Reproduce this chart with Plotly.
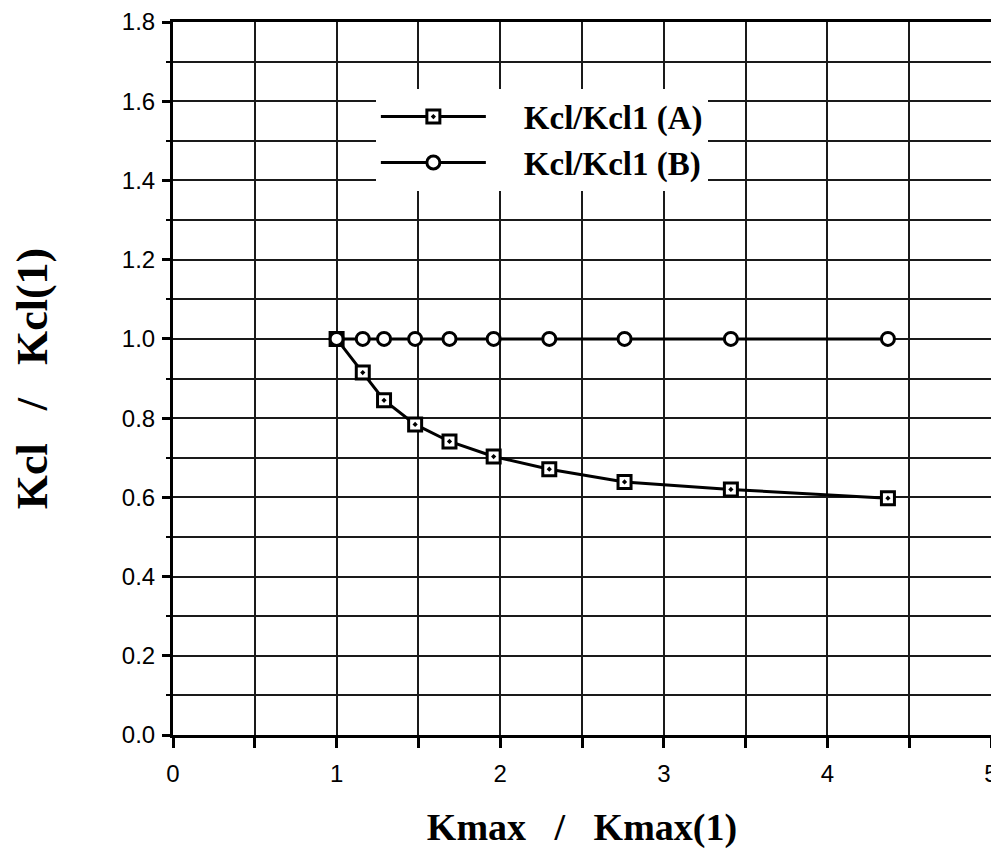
import plotly.graph_objects as go

# Data
kmax_ratio = [1.0, 1.16, 1.29, 1.48, 1.69, 1.96, 2.30, 2.76, 3.41, 4.37]
kcl_A = [1.0, 0.915, 0.845, 0.784, 0.741, 0.703, 0.671, 0.639, 0.620, 0.598]
kcl_B = [1.0, 1.0, 1.0, 1.0, 1.0, 1.0, 1.0, 1.0, 1.0, 1.0]

x_tickvals = [0, 0.5, 1, 1.5, 2, 2.5, 3, 3.5, 4, 4.5, 5]
x_ticktext = ["0", "", "1", "", "2", "", "3", "", "4", "", "5"]

series_names = ["Kcl/Kcl1 (A)", "Kcl/Kcl1 (B)"]
sp = "\u00a0\u00a0\u00a0"
lsp = "\u00a0\u00a0\u00a0\u00a0"
x_title = "Kmax" + sp + "/" + sp + "Kmax(1)"
y_title = "Kcl" + sp + "/" + sp + "Kcl(1)"

fig = go.Figure()
fig.add_trace(go.Scatter(
    x=kmax_ratio, y=kcl_A, name=lsp + series_names[0], mode="lines+markers",
    line=dict(color="black", width=3),
    marker=dict(symbol="square-dot", size=13, color="white",
                line=dict(color="black", width=3)),
))
fig.add_trace(go.Scatter(
    x=kmax_ratio, y=kcl_B, name=lsp + series_names[1], mode="lines+markers",
    line=dict(color="black", width=3),
    marker=dict(symbol="circle", size=13, color="white",
                line=dict(color="black", width=3)),
))

grid_color = "#1a1a1a"
serif = "Liberation Serif, Times New Roman"
fig.update_layout(
    width=999, height=853,
    paper_bgcolor="white", plot_bgcolor="white",
    margin=dict(l=165, r=16, t=14, b=126),
    font=dict(family="Liberation Sans, Arial", color="black", size=24),
    showlegend=True,
    legend=dict(
        x=0.248, y=0.9065, xanchor="left", yanchor="top",
        bgcolor="white", borderwidth=0,
        font=dict(family=serif, size=33, weight="bold"),
        itemwidth=105, tracegroupgap=0,
    ),
    xaxis=dict(
        range=[0, 5], tickmode="array", tickvals=x_tickvals, ticktext=x_ticktext,
        showgrid=True, gridcolor=grid_color, gridwidth=2,
        showline=True, linecolor="black", linewidth=3, mirror=True,
        ticks="outside", ticklen=10, tickwidth=3, tickcolor="black",
        ticklabelstandoff=5, ticklabeloverflow="allow",
        zeroline=False, automargin=False,
        tickfont=dict(size=24),
        title=dict(text=x_title, standoff=28,
                   font=dict(family=serif, size=38, weight="bold")),
    ),
    yaxis=dict(
        range=[0, 1.8], dtick=0.2, tick0=0, tickformat=".1f",
        showgrid=True, gridcolor=grid_color, gridwidth=2,
        showline=True, linecolor="black", linewidth=3, mirror=True,
        ticks="outside", ticklen=8, tickwidth=3, tickcolor="black",
        ticklabelstandoff=2, ticklabeloverflow="allow",
        zeroline=False, automargin=False,
        tickfont=dict(size=24),
        minor=dict(dtick=0.1, showgrid=True, gridcolor=grid_color, gridwidth=2,
                   ticks="outside", ticklen=4, tickwidth=2, tickcolor="black"),
        title=dict(text=y_title, standoff=94,
                   font=dict(family=serif, size=44, weight="bold")),
    ),
)

fig.write_html("out.html")
